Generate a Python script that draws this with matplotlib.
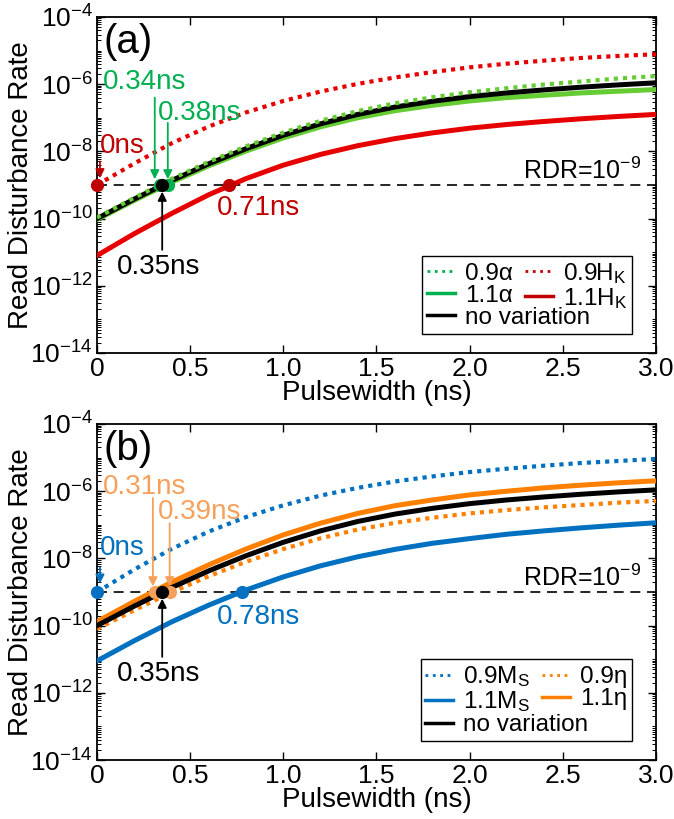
import numpy as np
import matplotlib
matplotlib.use('Agg')
import matplotlib.pyplot as plt
from matplotlib.lines import Line2D
from matplotlib.ticker import FixedLocator, FuncFormatter, NullLocator, NullFormatter

plt.rcParams['font.family'] = ['Liberation Sans', 'DejaVu Sans']
plt.rcParams['mathtext.fontset'] = 'custom'
plt.rcParams['mathtext.rm'] = 'Liberation Sans'
plt.rcParams['mathtext.it'] = 'Liberation Sans:italic'
plt.rcParams['mathtext.default'] = 'regular'

# Pulsewidth (ns) and log10 of the read disturbance rate for each curve
pulse = [0, 0.2, 0.4, 0.6, 0.8, 1.0, 1.2, 1.4, 1.6, 1.8, 2.0, 2.2, 2.4, 2.6, 2.8, 3.0]
log_nominal = [-10.0, -9.42, -8.87, -8.37, -7.92, -7.52, -7.18, -6.90, -6.68, -6.51, -6.37, -6.26, -6.17, -6.09, -6.02, -5.96]
# panel (a)
log_alpha09 = [-9.97, -9.38, -8.82, -8.31, -7.85, -7.44, -7.09, -6.80, -6.57, -6.39, -6.24, -6.12, -6.01, -5.92, -5.83, -5.76]
log_alpha11 = [-10.03, -9.46, -8.92, -8.43, -7.99, -7.60, -7.27, -7.00, -6.79, -6.63, -6.50, -6.40, -6.33, -6.26, -6.21, -6.16]
log_hk09 = [-9.0, -8.36, -7.76, -7.26, -6.84, -6.50, -6.22, -5.99, -5.80, -5.64, -5.50, -5.39, -5.30, -5.22, -5.16, -5.11]
log_hk11 = [-11.1, -10.45, -9.85, -9.29, -8.81, -8.41, -8.09, -7.83, -7.62, -7.45, -7.31, -7.20, -7.11, -7.03, -6.96, -6.90]
# panel (b)
log_ms09 = [-9.0, -8.33, -7.72, -7.20, -6.77, -6.42, -6.13, -5.90, -5.71, -5.56, -5.43, -5.33, -5.24, -5.16, -5.10, -5.04]
log_ms11 = [-11.05, -10.45, -9.89, -9.39, -8.94, -8.55, -8.22, -7.95, -7.73, -7.55, -7.41, -7.28, -7.18, -7.09, -7.01, -6.94]
log_eta09 = [-10.1, -9.54, -9.01, -8.53, -8.10, -7.72, -7.40, -7.14, -6.94, -6.79, -6.66, -6.56, -6.48, -6.41, -6.34, -6.29]
log_eta11 = [-9.88, -9.28, -8.71, -8.19, -7.72, -7.30, -6.95, -6.66, -6.43, -6.26, -6.11, -6.00, -5.90, -5.82, -5.75, -5.69]

rdr_target = 1e-9
# pulsewidths where each curve reaches RDR = 1e-9
cross_a = {'hk09': 0.0, 'alpha09': 0.34, 'alpha11': 0.38, 'nominal': 0.35, 'hk11': 0.71}
cross_b = {'ms09': 0.0, 'eta11': 0.31, 'eta09': 0.39, 'nominal': 0.35, 'ms11': 0.78}

RED = '#E60000'
RED_DK = '#C00000'
GREEN = '#66CC33'
GREEN_DK = '#00B050'
BLUE = '#0070C0'
ORANGE = '#FF8000'
ORANGE_LT = '#F7A05A'

FS_TICK = 19
FS_LAB = 20
FS_ANN = 20
FS_LEG = 17.5
LW = 3.6
DOT = (0, (1, 1.2))
MS = 8.5

fig = plt.figure(figsize=(6.74, 8.19), dpi=100)
ax_a = fig.add_axes([0.1439, 0.569, 0.8294, 0.4103])
ax_b = fig.add_axes([0.1439, 0.072, 0.8294, 0.4103])


def rdr(vals):
    return 10.0 ** np.array(vals)


def style_axes(ax, tag):
    ax.set_yscale('log')
    ax.set_xlim(0, 3)
    ax.set_ylim(1e-14, 1e-4)
    ax.set_xticks([0, 0.5, 1.0, 1.5, 2.0, 2.5, 3.0])
    ax.xaxis.set_major_formatter(FuncFormatter(lambda v, p: '0' if v == 0 else f'{v:.1f}'))
    ax.xaxis.set_minor_locator(NullLocator())
    ax.yaxis.set_major_locator(FixedLocator([10.0 ** k for k in range(-14, -3, 2)]))
    minors = [m * 10.0 ** k for k in range(-14, -4) for m in range(1, 10)
              if not (m == 1 and k % 2 == 0)]
    ax.yaxis.set_minor_locator(FixedLocator(minors))
    ax.yaxis.set_major_formatter(FuncFormatter(lambda v, p: '10$^{%d}$' % round(np.log10(v))))
    ax.yaxis.set_minor_formatter(NullFormatter())
    ax.tick_params(which='both', direction='in', top=True, right=True, labelsize=FS_TICK)
    ax.tick_params(which='major', length=6, width=1)
    ax.tick_params(axis='x', which='major', pad=3)
    ax.tick_params(axis='y', which='major', pad=3)
    ax.tick_params(which='minor', length=3, width=0.7)
    for s in ax.spines.values():
        s.set_linewidth(1.3)
    ax.set_xlabel('Pulsewidth (ns)', fontsize=FS_LAB, labelpad=-1)
    ax.set_ylabel('Read Disturbance Rate', fontsize=FS_LAB)
    ax.yaxis.set_label_coords(-0.112, 0.5)
    ax.axhline(rdr_target, color='black', lw=1.2, ls=(0, (6, 4)), zorder=1)
    ax.text(2.285, 10 ** -8.82, 'RDR=10$^{-9}$', fontsize=18, ha='left', va='baseline')
    ax.text(0.012, 0.926, tag, transform=ax.transAxes, fontsize=29, ha='left', va='center')


def arrow(ax, x, y0, y1, color):
    ax.annotate('', xy=(x, 10 ** y1), xytext=(x, 10 ** y0),
                arrowprops=dict(arrowstyle='-|>', color=color, lw=1.3, mutation_scale=13,
                                shrinkA=0, shrinkB=0), zorder=6)


# ---------- panel (a) ----------
style_axes(ax_a, '(a)')
ax_a.plot(pulse, rdr(log_hk11), color=RED, lw=LW, zorder=3)
ax_a.plot(pulse, rdr(log_hk09), color=RED, lw=3.0, ls=DOT, zorder=3)
ax_a.plot(pulse, rdr(log_alpha11), color=GREEN, lw=LW, zorder=3)
ax_a.plot(pulse, rdr(log_nominal), color='black', lw=LW, zorder=4)
ax_a.plot(pulse, rdr(log_alpha09), color=GREEN, lw=3.0, ls=DOT, zorder=5)

ax_a.plot([cross_a['hk09'], cross_a['hk11']], [rdr_target] * 2, 'o', color=RED_DK, ms=MS, zorder=7, clip_on=False)
ax_a.plot([cross_a['alpha09'], cross_a['alpha11']], [rdr_target] * 2, 'o', color=GREEN_DK, ms=MS, zorder=7)
ax_a.plot([cross_a['nominal']], [rdr_target], 'o', color='black', ms=MS, zorder=8)

arrow(ax_a, 0.016, -8.3, -8.8, RED_DK)
arrow(ax_a, cross_a['alpha09'] - 0.03, -6.4, -8.83, GREEN_DK)
arrow(ax_a, cross_a['alpha11'], -7.15, -8.83, GREEN_DK)
arrow(ax_a, cross_a['nominal'], -10.93, -9.2, 'black')
ax_a.text(0.016, 10 ** -8.05, '0ns', color=RED_DK, fontsize=FS_ANN, va='baseline')
ax_a.text(0.032, 10 ** -6.14, '0.34ns', color=GREEN_DK, fontsize=FS_ANN, va='baseline')
ax_a.text(0.328, 10 ** -7.07, '0.38ns', color=GREEN_DK, fontsize=FS_ANN, va='baseline')
ax_a.text(0.645, 10 ** -9.88, '0.71ns', color=RED_DK, fontsize=FS_ANN, va='baseline')
ax_a.text(0.33, 10 ** -11.65, '0.35ns', color='black', fontsize=FS_ANN, ha='center', va='baseline')

handles_a = [
    Line2D([], [], color=GREEN_DK, lw=2, ls=':'),
    Line2D([], [], color=GREEN_DK, lw=2.5),
    Line2D([], [], color='black', lw=2.5),
    Line2D([], [], color=RED_DK, lw=2, ls=':'),
    Line2D([], [], color=RED_DK, lw=2.5),
]
labels_a = ['0.9α', '1.1α', ' ', '0.9H$_{K}$', '1.1H$_{K}$']

# ---------- panel (b) ----------
style_axes(ax_b, '(b)')
ax_b.plot(pulse, rdr(log_ms11), color=BLUE, lw=LW, zorder=3)
ax_b.plot(pulse, rdr(log_ms09), color=BLUE, lw=3.0, ls=DOT, zorder=3)
ax_b.plot(pulse, rdr(log_eta09), color=ORANGE, lw=3.0, ls=DOT, zorder=3)
ax_b.plot(pulse, rdr(log_eta11), color=ORANGE, lw=LW, zorder=3)
ax_b.plot(pulse, rdr(log_nominal), color='black', lw=LW, zorder=4)

ax_b.plot([cross_b['ms09'], cross_b['ms11']], [rdr_target] * 2, 'o', color=BLUE, ms=MS, zorder=7, clip_on=False)
ax_b.plot([cross_b['eta11'], cross_b['eta09']], [rdr_target] * 2, 'o', color=ORANGE_LT, ms=MS, zorder=7)
ax_b.plot([cross_b['nominal']], [rdr_target], 'o', color='black', ms=MS, zorder=8)

arrow(ax_b, 0.016, -8.26, -8.75, BLUE)
arrow(ax_b, cross_b['eta11'] - 0.01, -6.2, -8.83, ORANGE_LT)
arrow(ax_b, cross_b['eta09'], -6.95, -8.83, ORANGE_LT)
arrow(ax_b, cross_b['nominal'], -10.93, -9.2, 'black')
ax_b.text(0.016, 10 ** -7.9, '0ns', color=BLUE, fontsize=FS_ANN, va='baseline')
ax_b.text(0.032, 10 ** -6.08, '0.31ns', color=ORANGE_LT, fontsize=FS_ANN, va='baseline')
ax_b.text(0.328, 10 ** -6.83, '0.39ns', color=ORANGE_LT, fontsize=FS_ANN, va='baseline')
ax_b.text(0.645, 10 ** -9.95, '0.78ns', color=BLUE, fontsize=FS_ANN, va='baseline')
ax_b.text(0.33, 10 ** -11.64, '0.35ns', color='black', fontsize=FS_ANN, ha='center', va='baseline')

handles_b = [
    Line2D([], [], color=BLUE, lw=2, ls=':'),
    Line2D([], [], color=BLUE, lw=2.5),
    Line2D([], [], color='black', lw=2.5),
    Line2D([], [], color=ORANGE, lw=2, ls=':'),
    Line2D([], [], color=ORANGE, lw=2.5),
]
labels_b = ['0.9M$_{S}$', '1.1M$_{S}$', ' ', '0.9η', '1.1η']

legends = []
for ax, h, l in [(ax_a, handles_a, labels_a), (ax_b, handles_b, labels_b)]:
    leg = ax.legend(h, l, ncol=2, loc='lower right', bbox_to_anchor=(0.957, 0.057),
                    borderaxespad=0, fontsize=FS_LEG, handlelength=1.15, handletextpad=0.4,
                    columnspacing=0.5, labelspacing=0.0, borderpad=0.2,
                    fancybox=False, framealpha=1, edgecolor='black')
    leg.get_frame().set_linewidth(1.0)
    legends.append(leg)

# "no variation" spans both legend columns, so it is written over the empty third slot
fig.canvas.draw()
renderer = fig.canvas.get_renderer()
for leg in legends:
    slot = leg.get_texts()[2].get_window_extent(renderer)
    fig.text(slot.x0 / fig.bbox.width, slot.y0 / fig.bbox.height, 'no variation',
             fontsize=FS_LEG, ha='left', va='bottom', zorder=10)

fig.savefig('out.png', dpi=100)
